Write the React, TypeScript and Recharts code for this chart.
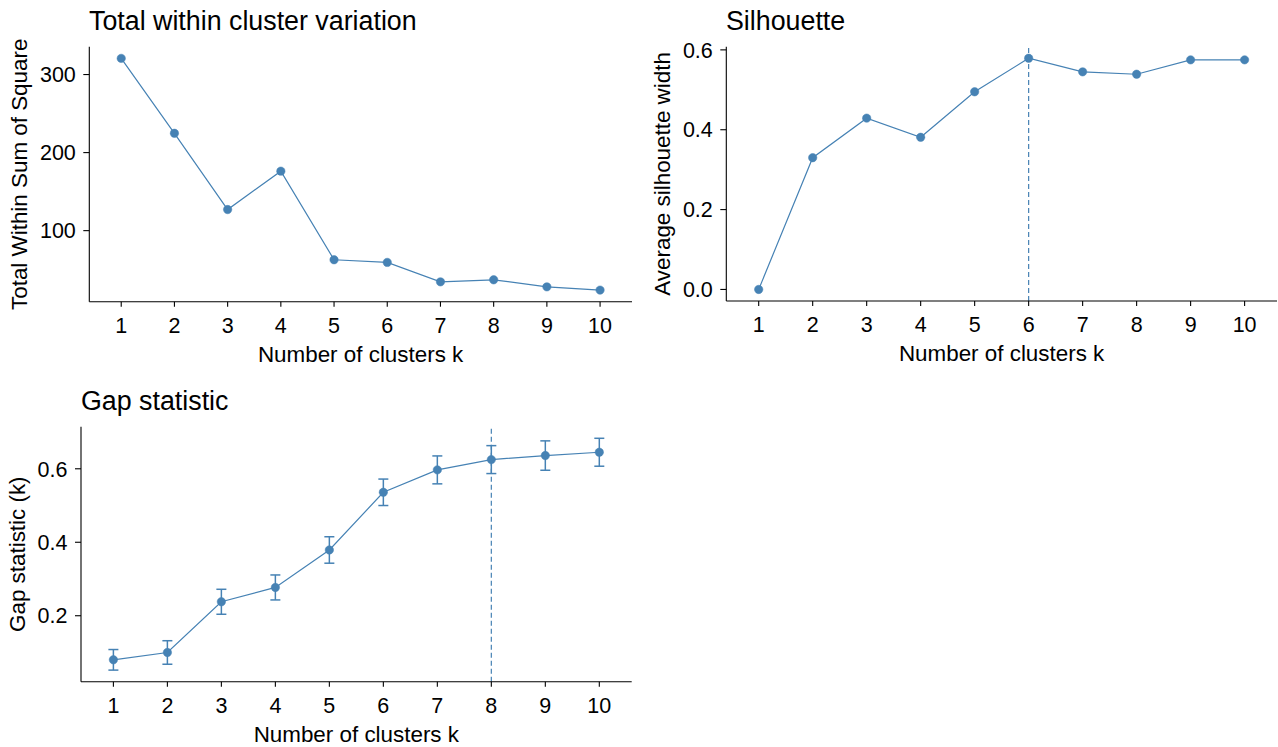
import React from 'react';
import { LineChart, Line, XAxis, YAxis, ReferenceLine, ErrorBar } from 'recharts';

const K = [1, 2, 3, 4, 5, 6, 7, 8, 9, 10];
const WSS = [320.7, 224.7, 127.0, 176.2, 62.7, 59.3, 34.4, 37.0, 28.0, 23.8];
const SIL = [0.0, 0.33, 0.429, 0.381, 0.495, 0.579, 0.545, 0.539, 0.575, 0.575];
const GAP = [0.08, 0.1, 0.238, 0.277, 0.379, 0.536, 0.597, 0.625, 0.636, 0.645];
const GAP_SE = [0.028, 0.032, 0.034, 0.034, 0.036, 0.036, 0.038, 0.038, 0.04, 0.038];

const WSS_TICKS = [100, 200, 300];
const SIL_TICKS = [0.0, 0.2, 0.4, 0.6];
const GAP_TICKS = [0.2, 0.4, 0.6];

const SIL_BEST_K = 6;
const GAP_BEST_K = 8;

const FONT = '"Liberation Sans", Arial, Helvetica, sans-serif';
const BLUE = '#4682B4';
const INK = '#000000';
const TICK_FS = 21.5;

const expand = (lo: number, hi: number): [number, number] => {
  const d = (hi - lo) * 0.05;
  return [lo - d, hi + d];
};
const X_DOMAIN: [number, number] = [0.4, 10.6];

const wssData = K.map((k, i) => ({ k, v: WSS[i] }));
const silData = K.map((k, i) => ({ k, v: SIL[i] }));
const gapData = K.map((k, i) => ({ k, v: GAP[i], se: GAP_SE[i] }));

const wssDomain = expand(Math.min(...WSS), Math.max(...WSS));
const silDomain = expand(Math.min(...SIL), Math.max(...SIL));
const gapDomain = expand(
  Math.min(...GAP.map((g, i) => g - GAP_SE[i])),
  Math.max(...GAP.map((g, i) => g + GAP_SE[i]))
);

const XTick = (props: any) => {
  const { x, y, payload } = props;
  return (
    <text x={x} y={y} dy={TICK_FS * 0.72} textAnchor="middle" fontSize={TICK_FS} fontFamily={FONT} fill={INK}>
      {String(payload.value)}
    </text>
  );
};

const makeYTick = (fmt?: (v: number) => string) => (props: any) => {
  const { x, y, payload } = props;
  const label = fmt ? fmt(payload.value) : String(payload.value);
  return (
    <text x={x} y={y} dy={TICK_FS * 0.36} textAnchor="end" fontSize={TICK_FS} fontFamily={FONT} fill={INK}>
      {label}
    </text>
  );
};

type PanelProps = {
  left: number;
  top: number;
  width: number;
  height: number;
  margin: { top: number; right: number; bottom: number; left: number };
  yWidth: number;
  data: any[];
  yDomain: [number, number];
  yTicks: number[];
  yFmt?: (v: number) => string;
  vline?: number;
  withError?: boolean;
};

function Panel(p: PanelProps) {
  return (
    <div style={{ position: 'absolute', left: p.left, top: p.top, width: p.width, height: p.height }}>
      <LineChart width={p.width} height={p.height} data={p.data} margin={p.margin}>
        <XAxis
          type="number"
          dataKey="k"
          domain={X_DOMAIN}
          ticks={K}
          interval={0}
          allowDataOverflow
          height={40}
          tick={XTick}
          tickSize={5}
          tickMargin={11}
          axisLine={{ stroke: INK, strokeWidth: 1.1 }}
          tickLine={{ stroke: INK, strokeWidth: 1.1 }}
        />
        <YAxis
          type="number"
          domain={p.yDomain}
          ticks={p.yTicks}
          interval={0}
          allowDataOverflow
          width={p.yWidth}
          tick={makeYTick(p.yFmt)}
          tickSize={6}
          tickMargin={7.5}
          axisLine={{ stroke: INK, strokeWidth: 1.1 }}
          tickLine={{ stroke: INK, strokeWidth: 1.1 }}
        />
        {p.vline !== undefined && (
          <ReferenceLine x={p.vline} stroke={BLUE} strokeWidth={1.2} strokeDasharray="5 3" />
        )}
        <Line
          dataKey="v"
          stroke={BLUE}
          strokeWidth={1.2}
          dot={{ r: 4.2, fill: BLUE, stroke: BLUE, strokeWidth: 0.5 }}
          activeDot={false}
          isAnimationActive={false}
        >
          {p.withError && (
            <ErrorBar dataKey="se" direction="y" width={5} stroke={BLUE} strokeWidth={1.5} />
          )}
        </Line>
      </LineChart>
    </div>
  );
}

const f1 = (v: number) => v.toFixed(1);

export default function App() {
  return (
    <div
      style={{
        position: 'absolute',
        left: 0,
        top: 0,
        width: 1278,
        height: 747,
        background: '#ffffff',
        overflow: 'hidden',
      }}
    >
      <Panel
        left={0}
        top={0}
        width={640}
        height={370}
        margin={{ top: 46.8, right: 8, bottom: 28.3, left: 0 }}
        yWidth={89.3}
        data={wssData}
        yDomain={wssDomain}
        yTicks={WSS_TICKS}
      />
      <Panel
        left={640}
        top={0}
        width={638}
        height={370}
        margin={{ top: 46.7, right: 1, bottom: 29, left: 0 }}
        yWidth={86.3}
        data={silData}
        yDomain={silDomain}
        yTicks={SIL_TICKS}
        yFmt={f1}
        vline={SIL_BEST_K}
      />
      <Panel
        left={0}
        top={380}
        width={640}
        height={367}
        margin={{ top: 46.7, right: 8.3, bottom: 25.3, left: 0 }}
        yWidth={81}
        data={gapData}
        yDomain={gapDomain}
        yTicks={GAP_TICKS}
        yFmt={f1}
        vline={GAP_BEST_K}
        withError
      />
      <svg
        width={1278}
        height={747}
        style={{ position: 'absolute', left: 0, top: 0, pointerEvents: 'none' }}
        fontFamily={FONT}
        fill={INK}
      >
        <text x={89} y={30} fontSize={26.8}>Total within cluster variation</text>
        <text x={726} y={30} fontSize={26.8}>Silhouette</text>
        <text x={81} y={410} fontSize={26.8}>Gap statistic</text>

        <text x={360.6} y={361.7} fontSize={22.4} textAnchor="middle">Number of clusters k</text>
        <text x={1001.6} y={361} fontSize={22.4} textAnchor="middle">Number of clusters k</text>
        <text x={356.3} y={741.7} fontSize={22.4} textAnchor="middle">Number of clusters k</text>

        <text transform="translate(27,174.3) rotate(-90)" fontSize={22.4} textAnchor="middle">
          Total Within Sum of Square
        </text>
        <text transform="translate(670,173.9) rotate(-90)" fontSize={22.4} textAnchor="middle">
          Average silhouette width
        </text>
        <text transform="translate(25,554.2) rotate(-90)" fontSize={22.4} textAnchor="middle">
          Gap statistic (k)
        </text>
      </svg>
    </div>
  );
}
